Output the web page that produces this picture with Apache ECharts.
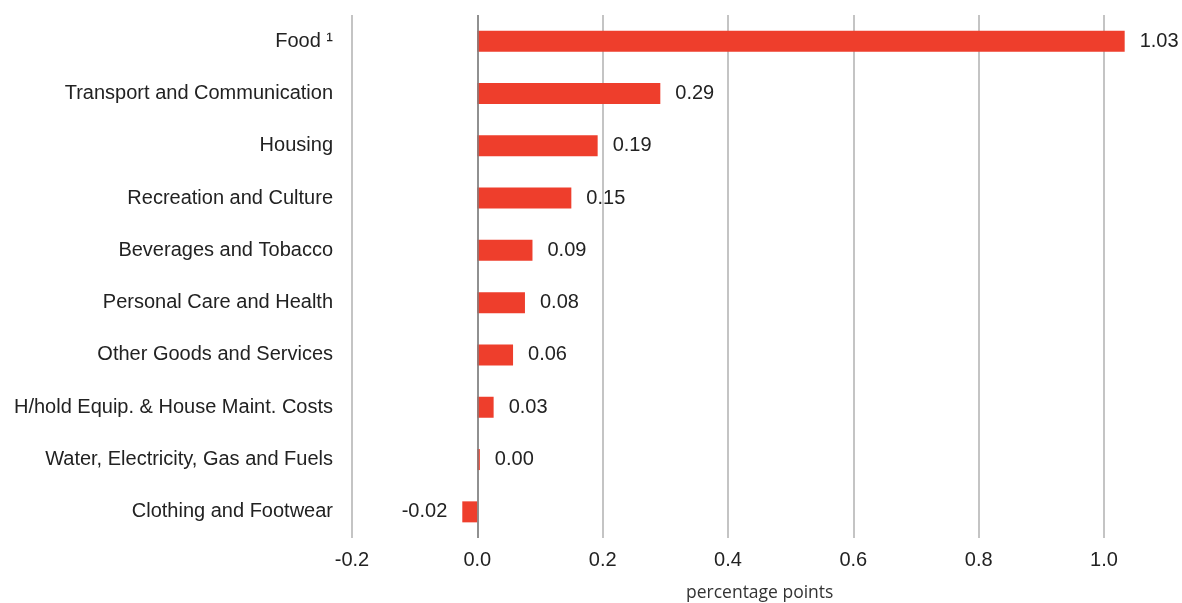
<!DOCTYPE html>
<html>
<head>
<meta charset="utf-8">
<script src="https://cdn.jsdelivr.net/npm/echarts@6/dist/echarts.min.js"></script>
<style>
html,body{margin:0;padding:0;background:#fff;}
#chart{width:1182px;height:603px;}
</style>
</head>
<body>
<div id="chart"></div>
<script>
const categories = [
  "Food ¹",
  "Transport and Communication",
  "Housing",
  "Recreation and Culture",
  "Beverages and Tobacco",
  "Personal Care and Health",
  "Other Goods and Services",
  "H/hold Equip. & House Maint. Costs",
  "Water, Electricity, Gas and Fuels",
  "Clothing and Footwear"
];
const values = [1.033, 0.292, 0.192, 0.150, 0.088, 0.076, 0.057, 0.026, 0.004, -0.024];
const valueLabels = ["1.03", "0.29", "0.19", "0.15", "0.09", "0.08", "0.06", "0.03", "0.00", "-0.02"];
const xTicks = { min: -0.2, max: 1.0, interval: 0.2 };
const axisName = "percentage points";

const chart = echarts.init(document.getElementById('chart'));
const font = "Arial, 'Liberation Sans', sans-serif";
chart.setOption({
  animation: false,
  grid: { left: 352, right: 78, top: 15, bottom: 65, containLabel: false },
  xAxis: {
    type: 'value',
    min: xTicks.min, max: xTicks.max, interval: xTicks.interval,
    axisLine: { show: false },
    axisTick: { show: false },
    axisLabel: {
      margin: 12,
      fontFamily: font, fontSize: 20, color: '#222',
      formatter: v => v.toFixed(1)
    },
    splitLine: { show: true, lineStyle: { color: '#c4c4c4', width: 2 } }
  },
  yAxis: {
    type: 'category',
    data: categories,
    inverse: true,
    axisLine: { show: false, onZero: false },
    axisTick: { show: false },
    axisLabel: { margin: 19, fontFamily: font, fontSize: 20, color: '#222' },
    splitLine: { show: false }
  },
  graphic: [{
    type: 'text',
    left: 686, top: 584,
    style: { text: axisName, fontFamily: "'Open Sans', sans-serif", fontSize: 17.5, fill: '#333' }
  }],
  series: [{
    type: 'bar',
    clip: false,
    barWidth: 21,
    itemStyle: { color: '#EE3E2C' },
    data: values.map((v, i) => ({
      value: v,
      label: { position: v < 0 ? 'left' : 'right' }
    })),
    label: {
      show: true,
      distance: 15,
      fontFamily: font, fontSize: 20, color: '#222',
      formatter: p => valueLabels[p.dataIndex]
    },
    markLine: {
      silent: true,
      symbol: 'none',
      label: { show: false },
      lineStyle: { color: '#7f7f7f', width: 1.5, type: 'solid' },
      data: [{ xAxis: 0 }]
    }
  }]
});
</script>
</body>
</html>
